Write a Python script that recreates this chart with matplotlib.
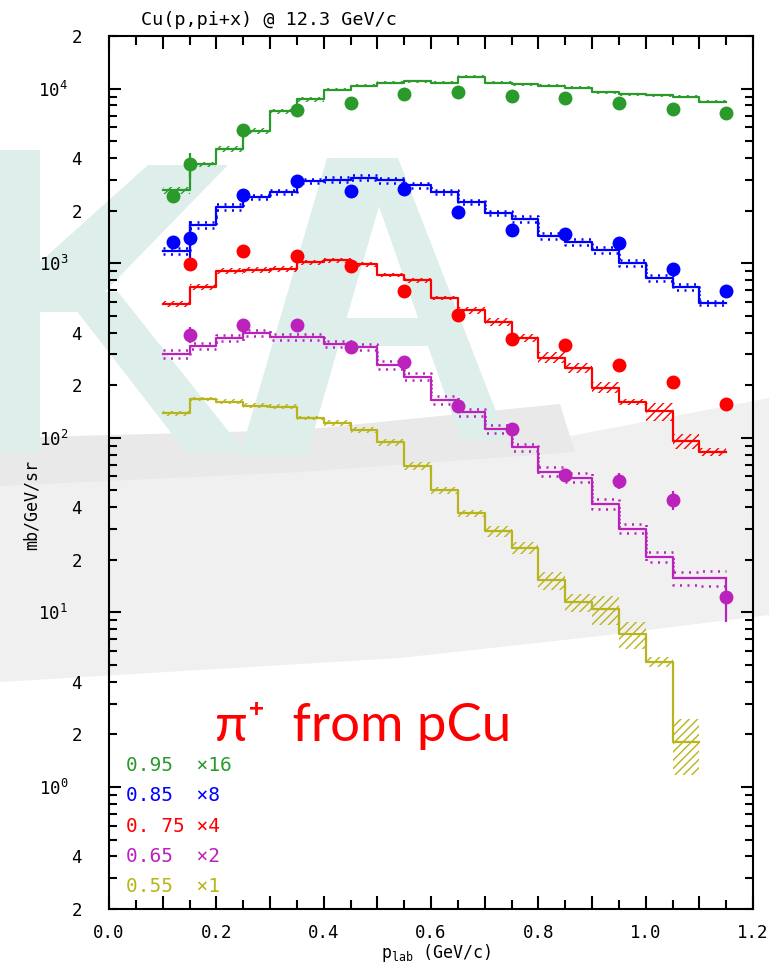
import numpy as np
import matplotlib
matplotlib.use("Agg")
import matplotlib.pyplot as plt
from matplotlib.patches import Polygon
from matplotlib.ticker import FixedLocator, FuncFormatter

plt.rcParams['font.family'] = ['DejaVu Sans Mono', 'DejaVu Sans']
plt.rcParams['mathtext.fontset'] = 'custom'
plt.rcParams['mathtext.rm'] = 'DejaVu Sans Mono'
plt.rcParams['hatch.linewidth'] = 1.0

W, H = 769, 976

# lower edges of the model histogram bins (GeV/c), bin width 0.05
bin_lo = [0.10, 0.15, 0.20, 0.25, 0.30, 0.35, 0.40, 0.45, 0.50, 0.55, 0.60,
          0.65, 0.70, 0.75, 0.80, 0.85, 0.90, 0.95, 1.00, 1.05, 1.10]
bin_w = 0.05

# measured momenta (GeV/c)
p_data = [0.15, 0.25, 0.35, 0.45, 0.55, 0.65, 0.75, 0.85, 0.95, 1.05, 1.15]
p_data_low = [0.12] + p_data

# angle 0.95 (x16)
model_095 = [163, 230, 283, 356, 463, 543, 617, 647, 673, 688, 673, 729, 676,
             661, 650, 633, 595, 579, 574, 560, 524]
band_095 = [0.04, 0.03, 0.04, 0.04, 0.03, 0.03, 0.02, 0.02, 0.02, 0.02, 0.02,
            0.02, 0.02, 0.02, 0.02, 0.02, 0.02, 0.02, 0.02, 0.02, 0.02]
data_095 = [152.5, 230, 361, 470, 518, 585, 598, 568, 554, 518, 475, 455]
err_095 = [0.03, 0.16, 0.03, 0.03, 0.03, 0.03, 0.03, 0.03, 0.03, 0.03, 0.03, 0.03]

# angle 0.85 (x8)
model_085 = [146.5, 208, 262, 299, 319, 369, 376, 386, 373, 349, 319, 280, 242,
             225, 180, 165, 148, 126, 103, 91, 74]
band_085 = [0.04, 0.04, 0.04, 0.03, 0.03, 0.03, 0.03, 0.03, 0.03, 0.03, 0.03,
            0.03, 0.03, 0.04, 0.04, 0.04, 0.04, 0.04, 0.04, 0.04, 0.03]
data_085 = [166, 174, 306, 369, 322, 334, 247, 193, 183, 163, 116, 87]
err_085 = [0.03, 0.25, 0.03, 0.03, 0.03, 0.03, 0.03, 0.03, 0.03, 0.03, 0.03, 0.03]

# angle 0.75 (x4)
model_075 = [146, 182, 225, 229, 232, 253, 259, 246, 214, 199, 158, 134, 115,
             93, 72, 63, 48.5, 40, 35.5, 24, 20.8]
band_075 = [0.04, 0.04, 0.04, 0.04, 0.04, 0.03, 0.03, 0.03, 0.03, 0.03, 0.03,
            0.04, 0.05, 0.05, 0.07, 0.07, 0.07, 0.04, 0.12, 0.10, 0.05]
data_075 = [246, 293, 273, 240, 174, 126.5, 92, 85, 65, 52.5, 39]
err_075 = [0.03, 0.03, 0.03, 0.03, 0.03, 0.03, 0.03, 0.03, 0.03, 0.04, 0.08]

# angle 0.65 (x2)
model_065 = [151, 168, 186, 198, 190, 190, 172, 165, 131, 112, 82.5, 70, 56, 44,
             32, 29.6, 20.9, 15.1, 10.4, 7.85, 7.85]
band_065 = [0.05, 0.04, 0.04, 0.04, 0.04, 0.04, 0.04, 0.04, 0.05, 0.05, 0.05,
            0.05, 0.05, 0.05, 0.06, 0.06, 0.06, 0.06, 0.06, 0.09, 0.10]
data_065 = [195, 220, 220, 165, 135, 76.5, 56, 30.4, 28.4, 22, 6.15]
err_065 = [0.10, 0.03, 0.03, 0.03, 0.03, 0.03, 0.03, 0.04, 0.11, 0.12, 0.28]

# angle 0.55 (x1), model only
model_055 = [138, 167, 161, 153, 151, 130, 121, 111, 94, 69, 50, 36.9, 29.1,
             23.5, 15.3, 11.4, 10.4, 7.5, 5.2, 1.81]
band_055 = [0.03, 0.03, 0.03, 0.03, 0.03, 0.03, 0.04, 0.04, 0.04, 0.05, 0.05,
            0.05, 0.07, 0.08, 0.12, 0.12, 0.19, 0.18, 0.07, 0.35]

legend_angle = ['0.95  ', '0.85  ', '0. 75 ', '0.65  ', '0.55  ']
legend_scale = ['\u00d716', '\u00d78', '\u00d74', '\u00d72', '\u00d71']
scales = [16, 8, 4, 2, 1]
colors = ['#2a9a2a', '#0000ff', '#ff0000', '#bb22bb', '#b8b41c']
band_style = ['hatch', 'dots', 'hatch', 'dots', 'hatch']

models = [model_095, model_085, model_075, model_065, model_055]
bands = [band_095, band_085, band_075, band_065, band_055]
points = [(p_data_low, data_095, err_095), (p_data_low, data_085, err_085),
          (p_data, data_075, err_075), (p_data, data_065, err_065), None]

fig = plt.figure(figsize=(W / 100, H / 100), dpi=100, facecolor='white')


def px_poly(pts, color, z=-10):
    arr = np.array(pts, dtype=float)
    arr[:, 0] /= W
    arr[:, 1] = 1 - arr[:, 1] / H
    fig.add_artist(Polygon(arr, closed=True, transform=fig.transFigure,
                           facecolor=color, edgecolor='none', linewidth=0,
                           zorder=z))


# faint logo in the background: grey swoosh, letter shadows, teal letters
px_poly([(0, 468), (300, 455), (560, 438), (769, 398),
         (769, 615), (600, 636), (400, 658), (200, 670), (0, 682)],
        '#f0f0f0', z=-12)
px_poly([(0, 438), (300, 430), (560, 404), (575, 452), (300, 472),
         (0, 486)], '#e9e9e9', z=-11)
teal = '#deefeb'
px_poly([(0, 150), (40, 150), (40, 452), (0, 452)], teal)
px_poly([(148, 165), (228, 165), (85, 312), (40, 312), (40, 262)], teal)
px_poly([(62, 292), (118, 292), (245, 452), (186, 452)], teal)
px_poly([(327, 158), (393, 158), (307, 455), (240, 455)], teal)
px_poly([(362, 158), (398, 158), (507, 440), (461, 440)], teal)
px_poly([(331, 318), (425, 318), (436, 346), (322, 346)], teal)

ax = fig.add_axes([109 / W, 1 - 909 / H, (753 - 109) / W, (909 - 36) / H])
ax.set_facecolor('none')
ax.set_yscale('log')
ax.set_xlim(0.0, 1.2)
ax.set_ylim(0.2, 2e4)

for model, band, pts, sc, col, sty in zip(models, bands, points, scales,
                                          colors, band_style):
    n = len(model)
    edges = np.array(bin_lo[:n] + [bin_lo[n - 1] + bin_w])
    v = np.array(model, dtype=float) * sc
    e = np.array(band)
    v_ext = np.append(v, v[-1])
    lo = np.append(v * (1 - e), v[-1] * (1 - e[-1]))
    hi = np.append(v * (1 + e), v[-1] * (1 + e[-1]))
    if sty == 'hatch':
        ax.fill_between(edges, lo, hi, step='post', facecolor='none',
                        edgecolor=col, hatch='////', linewidth=0, zorder=2)
    else:
        for b in (lo, hi):
            ax.step(edges, b, where='post', color=col, lw=1.8,
                    linestyle=(0, (0.8, 2.2)), zorder=2)
    ax.step(edges, v_ext, where='post', color=col, lw=1.6, zorder=3)
    if pts is not None:
        px, py, pe = pts
        y = np.array(py, dtype=float) * sc
        ax.errorbar(px, y, yerr=np.array(pe) * y, fmt='o', ms=9, color=col,
                    ecolor=col, elinewidth=1.6, capsize=0, zorder=5)

# axes ticks
ax.xaxis.set_major_locator(FixedLocator([0.1 * i for i in range(13)]))
ax.xaxis.set_minor_locator(FixedLocator([0.05 + 0.1 * i for i in range(12)]))
ax.xaxis.set_major_formatter(FuncFormatter(
    lambda v, _: f'{v:.1f}' if round(v * 10) % 2 == 0 else ''))

ax.yaxis.set_major_locator(FixedLocator([1, 10, 100, 1e3, 1e4]))
ax.yaxis.set_major_formatter(FuncFormatter(
    lambda v, _: r'$\mathregular{10^{%d}}$' % round(np.log10(v))))
minor_y = [k * 10.0 ** d for d in range(-1, 5) for k in range(2, 10)
           if 0.2 * 0.999 <= k * 10.0 ** d <= 2e4 * 1.001]
ax.yaxis.set_minor_locator(FixedLocator(minor_y))


def minor_fmt(v, _):
    k = round(v / 10 ** np.floor(np.log10(v) + 1e-9))
    return str(k) if k in (2, 4) else ''


ax.yaxis.set_minor_formatter(FuncFormatter(minor_fmt))

ax.tick_params(axis='both', which='both', direction='in', top=True,
               right=True, width=1.5, labelsize=12.5, colors='black')
ax.tick_params(axis='y', which='major', length=8.6, pad=29.5)
ax.tick_params(axis='y', which='minor', length=5.8, pad=19.5)
ax.tick_params(axis='x', which='major', length=9.4, pad=11)
ax.tick_params(axis='x', which='minor', length=6.5)
for s in ax.spines.values():
    s.set_linewidth(1.5)

# texts
fig.text(141 / W, 1 - 25 / H, 'Cu(p,pi+x) @ 12.3 GeV/c', ha='left',
         va='baseline', fontsize=13.3)
fig.text(32 / W, 1 - 505 / H, 'mb/GeV/sr', rotation=90, ha='center',
         va='center', fontsize=12)
fig.text(381 / W, 1 - 958 / H, r'$\mathregular{p_{lab}}$ (GeV/c)',
         ha='left', va='baseline', fontsize=12)
fig.text(215 / W, 1 - 741 / H, '\u03c0\u207a  from pCu', ha='left',
         va='baseline', fontsize=38, color='#ff0000',
         family=['Lato', 'DejaVu Sans'])

for i, (a, s, c) in enumerate(zip(legend_angle, legend_scale, colors)):
    yb = 771 + 30.3 * i
    fig.text(126 / W, 1 - yb / H, a + s, ha='left', va='baseline',
             fontsize=14, color=c)

fig.savefig('out.png', dpi=100, facecolor='white')
